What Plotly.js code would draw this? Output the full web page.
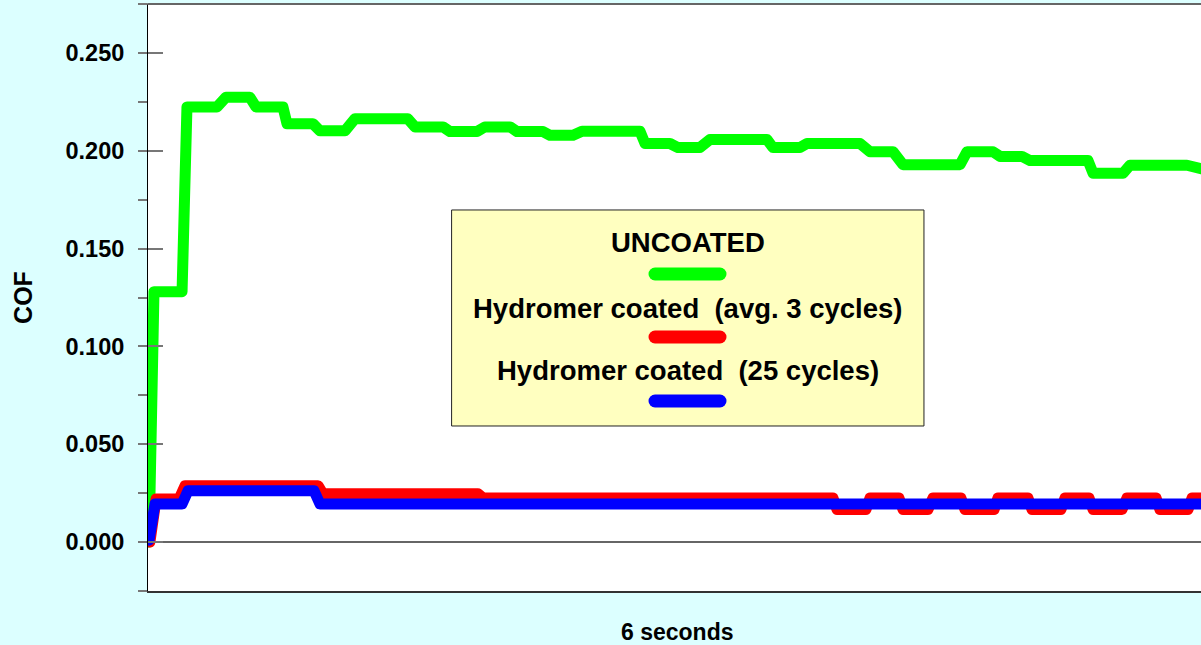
<!DOCTYPE html>
<html>
<head>
<meta charset="utf-8">
<script src="https://cdn.plot.ly/plotly-3.0.1.min.js"></script>
<style>
  html, body { margin: 0; padding: 0; background: #DCFFFF; }
  #chart { width: 1201px; height: 645px; }
  .scatterlayer .js-line { stroke-linejoin: round !important; stroke-linecap: round !important; }
  .shapelayer path { stroke-linecap: round; }
</style>
</head>
<body>
<div id="chart"></div>
<script>
// ---- data (time in seconds, COF) ----
const seriesNames = ['UNCOATED', 'Hydromer coated \u00a0(avg. 3 cycles)', 'Hydromer coated \u00a0(25 cycles)'];

const timeUncoated = [0.006, 0.034, 0.194, 0.222, 0.393, 0.444, 0.581, 0.615, 0.769, 0.792, 0.940, 0.980, 1.123, 1.179,
  1.481, 1.521, 1.681, 1.721, 1.875, 1.920, 2.063, 2.103, 2.251, 2.291, 2.422, 2.473, 2.803, 2.832, 2.974, 3.020,
  3.145, 3.202, 3.527, 3.561, 3.715, 3.755, 4.057, 4.114, 4.245, 4.302, 4.627, 4.667, 4.815, 4.855, 4.980, 5.026,
  5.356, 5.385, 5.556, 5.595, 5.920, 5.966, 6.000];
const cofUncoated = [0.000, 0.128, 0.128, 0.2224, 0.2224, 0.2273, 0.2273, 0.2224, 0.2224, 0.2138, 0.2138, 0.2102, 0.2102, 0.2163,
  0.2163, 0.2122, 0.2122, 0.2098, 0.2098, 0.2122, 0.2122, 0.2098, 0.2098, 0.2079, 0.2079, 0.2100, 0.2100, 0.2037, 0.2037, 0.2016,
  0.2016, 0.2058, 0.2058, 0.2016, 0.2016, 0.2037, 0.2037, 0.1995, 0.1995, 0.1929, 0.1929, 0.1995, 0.1995, 0.1971, 0.1971, 0.1950,
  0.1950, 0.1885, 0.1885, 0.1926, 0.1926, 0.1908, 0.1908];

const timeAvg3 = [0.011, 0.046, 0.177, 0.211, 0.969, 0.997, 1.880, 1.909, 3.903, 3.926, 4.091, 4.114, 4.279, 4.302,
  4.444, 4.473, 4.632, 4.655, 4.821, 4.843, 5.014, 5.037, 5.202, 5.225, 5.362, 5.385, 5.550, 5.578, 5.744, 5.766,
  5.926, 5.949, 6.000];
const cofAvg3 = [0.000, 0.0220, 0.0220, 0.0288, 0.0288, 0.0247, 0.0247, 0.0225, 0.0225, 0.0167, 0.0167, 0.0225, 0.0225, 0.0167,
  0.0167, 0.0225, 0.0225, 0.0167, 0.0167, 0.0225, 0.0225, 0.0167, 0.0167, 0.0225, 0.0225, 0.0167, 0.0167, 0.0225, 0.0225, 0.0167,
  0.0167, 0.0225, 0.0225];

const time25 = [0.006, 0.040, 0.194, 0.228, 0.946, 0.980, 6.000];
const cof25 = [0.001, 0.0195, 0.0195, 0.0262, 0.0262, 0.0195, 0.0195];

const yRange = [-0.025, 0.275];
const xRange = [0, 6];
const xTitle = '6 seconds';
const yTitle = 'COF';

// ---- styles ----
const colors = ['#00FF00', '#FF0000', '#0000FF'];
const FONT = 'Liberation Sans, Arial, Helvetica, sans-serif';

const traces = [
  { x: timeUncoated, y: cofUncoated, name: seriesNames[0], mode: 'lines', line: { color: colors[0], width: 11 }, hoverinfo: 'skip' },
  { x: timeAvg3, y: cofAvg3, name: seriesNames[1], mode: 'lines', line: { color: colors[1], width: 11 }, hoverinfo: 'skip' },
  { x: time25, y: cof25, name: seriesNames[2], mode: 'lines', line: { color: colors[2], width: 11 }, hoverinfo: 'skip' },
  { x: [], y: [], yaxis: 'y2', showlegend: false, hoverinfo: 'skip' }
];

// legend block geometry (paper coords)
const legX0 = 0.2887, legX1 = 0.7369, legY0 = 0.2811, legY1 = 0.6491;
const legCx = 0.513;
const legTextY = [0.5935, 0.482, 0.3755];
const legLineY = [0.540, 0.4327, 0.3237];
const legLineX = [0.4815, 0.5432];

const shapes = [
  { type: 'line', xref: 'paper', yref: 'paper', x0: 0, x1: 1, y0: 1, y1: 1, line: { color: '#666666', width: 2 } },
  { type: 'rect', xref: 'paper', yref: 'paper', x0: legX0, x1: legX1, y0: legY0, y1: legY1,
    fillcolor: '#FFFFC0', line: { color: '#222222', width: 1 }, layer: 'above' }
];
seriesNames.forEach((n, i) => {
  shapes.push({ type: 'line', xref: 'paper', yref: 'paper', x0: legLineX[0], x1: legLineX[1],
    y0: legLineY[i], y1: legLineY[i], line: { color: colors[i], width: 13 }, layer: 'above' });
});

const annotations = seriesNames.map((n, i) => ({
  xref: 'paper', yref: 'paper', x: legCx, y: legTextY[i], text: n, showarrow: false,
  xanchor: 'center', yanchor: 'middle',
  font: { family: FONT, size: 27.5, color: '#000', weight: 'bold' }
}));
// x-axis title placed as annotation below the plot
annotations.push({
  xref: 'paper', yref: 'paper', x: 0.503, y: -0.0705, text: xTitle, showarrow: false,
  xanchor: 'center', yanchor: 'middle',
  font: { family: FONT, size: 23, color: '#000', weight: 'bold' }
});

const layout = {
  width: 1201, height: 645,
  margin: { l: 148, r: 0, t: 4, b: 54, pad: 0 },
  paper_bgcolor: '#DCFFFF',
  plot_bgcolor: '#FFFFFF',
  showlegend: false,
  font: { family: FONT, color: '#000' },
  xaxis: {
    range: xRange, showticklabels: false, ticks: '', showgrid: false, zeroline: false,
    showline: true, linecolor: '#333333', linewidth: 1.5,
    automargin: false
  },
  yaxis: {
    range: yRange, tick0: 0, dtick: 0.05, tickformat: '.3f',
    ticks: 'outside', ticklen: 9, tickwidth: 2, tickcolor: '#777777',
    minor: { dtick: 0.025, tick0: 0, ticks: 'outside', ticklen: 9, tickwidth: 2, tickcolor: '#777777', showgrid: false },
    showgrid: false, zeroline: true, zerolinecolor: '#666666', zerolinewidth: 1.5,
    showline: true, linecolor: '#000000', linewidth: 1,
    tickfont: { family: FONT, size: 23.5, weight: 'bold', color: '#000' },
    ticklabelstandoff: 9,
    title: { text: yTitle, font: { family: FONT, size: 25, weight: 'bold', color: '#000' }, standoff: 25 },
    automargin: false
  },
  yaxis2: {
    overlaying: 'y', side: 'left', range: yRange, tick0: 0, dtick: 0.05,
    ticks: 'inside', ticklen: 15, tickwidth: 2, tickcolor: '#777777',
    showticklabels: false, showgrid: false, zeroline: false, showline: false
  },
  shapes: shapes,
  annotations: annotations
};

Plotly.newPlot('chart', traces, layout, { staticPlot: true, displayModeBar: false });
</script>
</body>
</html>
